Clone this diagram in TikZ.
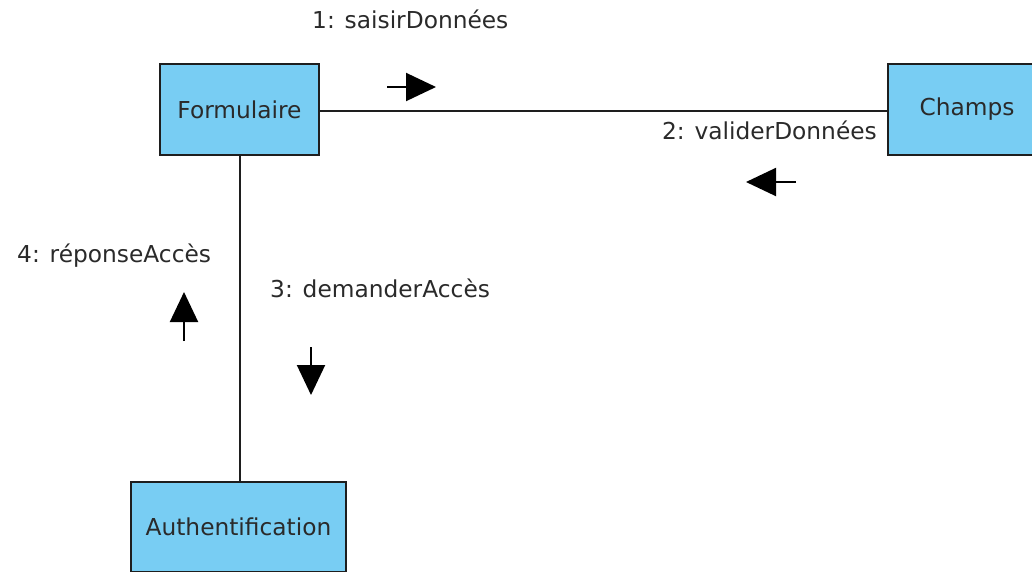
\documentclass[tikz,border=0pt]{standalone}
\usepackage{fontspec}
\setmainfont{DejaVu Sans}
\usetikzlibrary{arrows.meta}
\definecolor{boxfill}{HTML}{78CDF3}
\definecolor{inkline}{HTML}{1E1E1E}
\definecolor{inktext}{HTML}{2A2A2A}
\begin{document}
\begin{tikzpicture}[x=1pt,y=-1pt,
  objbox/.style={draw=inkline, line width=2pt, fill=boxfill, text=inktext,
    font=\fontsize{23.3}{27}\selectfont, inner sep=0pt},
  link/.style={draw=inkline, line width=2pt},
  msg/.style={text=inktext, font=\fontsize{23.3}{27}\selectfont, inner sep=0pt},
  msgarrow/.style={line width=2pt, -{Triangle[length=30pt,width=28pt]}}]
\useasboundingbox (0,0) rectangle (1032,571);
\clip (0,0) rectangle (1032,571);

% objects
\node[objbox, minimum width=159pt, minimum height=91pt] (form) at (239.5,109.5) {Formulaire};
\node[objbox, minimum width=158pt, minimum height=91pt] (champs) at (967,109.5) {Champs};
\node[objbox, minimum width=215pt, minimum height=90pt] (auth) at (238.5,527) {Authentification};

% links
\draw[link] ([yshift=-1.5pt]form.east) -- ([yshift=-1.5pt]champs.west);
\draw[link] (form.south) -- (form.south |- auth.north);

% messages
\node[msg, anchor=base west] (m1) at (312,28) {1: saisirDonnées};
\node[msg, anchor=base east] (m2) at (877,139) {2: validerDonnées};
\node[msg, anchor=base west] (m3) at (270,297) {3: demanderAccès};
\node[msg, anchor=base west] (m4) at (17,262) {4: réponseAccès};

\coordinate (a1s) at (387,87);  \coordinate (a1e) at (436,87);
\coordinate (a2s) at (796,182); \coordinate (a2e) at (746,182);
\coordinate (a3s) at (311,347); \coordinate (a3e) at (311,395);
\coordinate (a4s) at (184,341); \coordinate (a4e) at (184,292);
\draw[msgarrow] (a1s) -- (a1e);
\draw[msgarrow] (a2s) -- (a2e);
\draw[msgarrow] (a3s) -- (a3e);
\draw[msgarrow] (a4s) -- (a4e);
\end{tikzpicture}
\end{document}
